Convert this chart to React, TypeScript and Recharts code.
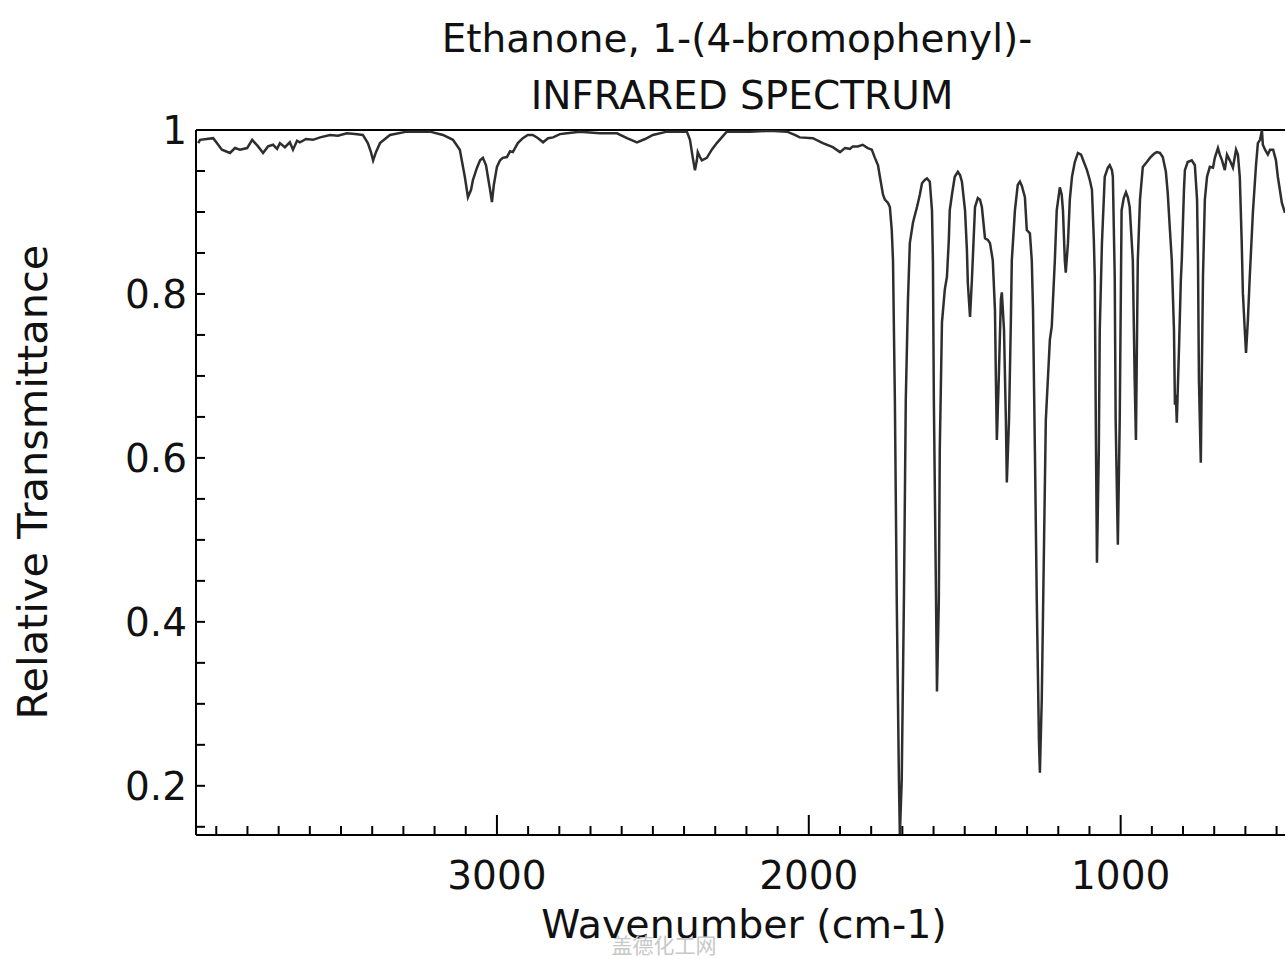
import React from 'react';
import { LineChart, Line, XAxis, YAxis, ReferenceLine } from 'recharts';

const wavenumbers = [
  3958, 3952, 3910, 3898, 3882, 3856, 3840, 3824, 3801, 3785,
  3766, 3750, 3734, 3718, 3705, 3696, 3680, 3664, 3654, 3641,
  3632, 3612, 3590, 3567, 3535, 3510, 3481, 3455, 3430, 3414,
  3404, 3397, 3388, 3375, 3343, 3289, 3215, 3173, 3141, 3119,
  3103, 3093, 3083, 3077, 3064, 3054, 3045, 3035, 3029, 3022,
  3016, 3010, 3000, 2990, 2981, 2968, 2958, 2949, 2933, 2917,
  2901, 2885, 2868, 2852, 2836, 2820, 2798, 2776, 2734, 2670,
  2615, 2583, 2551, 2525, 2500, 2455, 2391, 2381, 2372, 2365,
  2359, 2356, 2349, 2343, 2327, 2311, 2295, 2279, 2263, 2189,
  2125, 2070, 2045, 2029, 1987, 1955, 1923, 1900, 1884, 1868,
  1859, 1843, 1827, 1811, 1798, 1788, 1778, 1772, 1762, 1756,
  1746, 1740, 1734, 1730, 1724, 1718, 1711, 1708, 1702, 1695,
  1689, 1682, 1676, 1666, 1660, 1653, 1644, 1637, 1628, 1621,
  1612, 1605, 1602, 1599, 1592, 1589, 1583, 1580, 1573, 1564,
  1557, 1551, 1548, 1541, 1532, 1522, 1515, 1509, 1499, 1493,
  1490, 1483, 1477, 1467, 1458, 1451, 1445, 1435, 1426, 1419,
  1410, 1403, 1400, 1397, 1391, 1384, 1381, 1374, 1368, 1365,
  1358, 1352, 1349, 1339, 1330, 1323, 1317, 1307, 1301, 1291,
  1285, 1281, 1275, 1269, 1262, 1259, 1253, 1246, 1240, 1227,
  1221, 1211, 1205, 1195, 1189, 1185, 1179, 1176, 1169, 1163,
  1156, 1147, 1137, 1127, 1118, 1108, 1099, 1092, 1086, 1083,
  1079, 1076, 1070, 1067, 1060, 1051, 1041, 1035, 1028, 1025,
  1019, 1016, 1009, 1003, 997, 990, 983, 977, 971, 961,
  955, 951, 945, 938, 929, 916, 906, 893, 884, 874,
  865, 855, 849, 842, 836, 829, 826, 823, 820, 813,
  807, 804, 797, 794, 785, 772, 762, 755, 752, 749,
  743, 740, 736, 730, 723, 714, 704, 698, 688, 682,
  675, 666, 659, 650, 640, 630, 624, 618, 612, 608,
  602, 598, 592, 586, 576, 566, 560, 553, 547, 544,
  537, 528, 521, 511, 502, 496, 483, 473,
];

const transmittance = [
  0.984, 0.988, 0.990, 0.984, 0.976, 0.972, 0.978, 0.976, 0.978, 0.988,
  0.980, 0.972, 0.980, 0.982, 0.977, 0.984, 0.979, 0.985, 0.976, 0.987,
  0.985, 0.989, 0.988, 0.991, 0.994, 0.993, 0.996, 0.995, 0.994, 0.984,
  0.973, 0.963, 0.973, 0.984, 0.994, 0.998, 0.998, 0.994, 0.988, 0.976,
  0.943, 0.918, 0.927, 0.939, 0.954, 0.963, 0.966, 0.957, 0.943, 0.927,
  0.912, 0.933, 0.955, 0.963, 0.966, 0.967, 0.974, 0.973, 0.984, 0.990,
  0.994, 0.994, 0.990, 0.985, 0.990, 0.991, 0.995, 0.996, 0.998, 0.996,
  0.996, 0.990, 0.985, 0.989, 0.994, 0.998, 0.998, 0.988, 0.966, 0.951,
  0.963, 0.973, 0.967, 0.963, 0.966, 0.976, 0.984, 0.991, 0.998, 0.998,
  0.999, 0.998, 0.994, 0.991, 0.990, 0.984, 0.979, 0.973, 0.978, 0.977,
  0.980, 0.980, 0.982, 0.978, 0.976, 0.966, 0.957, 0.943, 0.921, 0.915,
  0.911, 0.906, 0.878, 0.841, 0.671, 0.427, 0.207, 0.140, 0.207, 0.427,
  0.671, 0.793, 0.862, 0.887, 0.896, 0.906, 0.921, 0.935, 0.939, 0.941,
  0.937, 0.902, 0.841, 0.671, 0.427, 0.315, 0.427, 0.610, 0.765, 0.805,
  0.821, 0.866, 0.902, 0.921, 0.943, 0.949, 0.945, 0.937, 0.902, 0.854,
  0.813, 0.772, 0.817, 0.906, 0.917, 0.915, 0.906, 0.868, 0.866, 0.862,
  0.841, 0.780, 0.695, 0.622, 0.695, 0.793, 0.802, 0.756, 0.646, 0.570,
  0.646, 0.768, 0.841, 0.902, 0.933, 0.937, 0.932, 0.918, 0.878, 0.874,
  0.841, 0.780, 0.610, 0.427, 0.256, 0.216, 0.305, 0.488, 0.646, 0.744,
  0.760, 0.841, 0.902, 0.930, 0.921, 0.902, 0.841, 0.826, 0.862, 0.915,
  0.943, 0.961, 0.972, 0.970, 0.961, 0.951, 0.939, 0.927, 0.866, 0.821,
  0.610, 0.472, 0.610, 0.756, 0.862, 0.943, 0.954, 0.957, 0.951, 0.943,
  0.821, 0.646, 0.494, 0.646, 0.902, 0.917, 0.924, 0.918, 0.906, 0.841,
  0.695, 0.622, 0.841, 0.915, 0.955, 0.961, 0.966, 0.971, 0.973, 0.972,
  0.967, 0.949, 0.923, 0.878, 0.841, 0.756, 0.665, 0.677, 0.643, 0.732,
  0.817, 0.841, 0.927, 0.951, 0.961, 0.963, 0.957, 0.915, 0.841, 0.695,
  0.594, 0.695, 0.821, 0.915, 0.943, 0.955, 0.954, 0.966, 0.978, 0.970,
  0.963, 0.951, 0.970, 0.963, 0.954, 0.976, 0.970, 0.943, 0.866, 0.801,
  0.756, 0.728, 0.768, 0.821, 0.899, 0.957, 0.984, 0.988, 1.000, 0.982,
  0.976, 0.970, 0.976, 0.976, 0.963, 0.943, 0.911, 0.899,
];

const xTicks = [500, 600, 700, 800, 900, 1000, 1100, 1200, 1300, 1400, 1500, 1600, 1700, 1800, 1900, 2000, 2100, 2200, 2300, 2400, 2500, 2600, 2700, 2800, 2900, 3000, 3100, 3200, 3300, 3400, 3500, 3600, 3700, 3800, 3900];
const yTicks = [0.15, 0.2, 0.25, 0.3, 0.35, 0.4, 0.45, 0.5, 0.55, 0.6, 0.65, 0.7, 0.75, 0.8, 0.85, 0.9, 0.95, 1.0];

const titleLine1 = 'Ethanone, 1-(4-bromophenyl)-';
const titleLine2 = 'INFRARED SPECTRUM';
const xLabel = 'Wavenumber (cm-1)';
const yLabel = 'Relative Transmittance';
const watermark = '盖德化工网';

const data = wavenumbers.map((w, i) => ({ w, t: transmittance[i] }));

const FONT = '"DejaVu Sans", Verdana, sans-serif';

const XTick = (props: any) => {
  const { x, y, payload } = props;
  const v = payload.value as number;
  const major = v % 1000 === 0;
  return (
    <g>
      <line x1={x} x2={x} y1={y} y2={y - (major ? 20 : 9)} stroke="#000" strokeWidth={2} />
      {major && (
        <text x={x} y={y + 54} textAnchor="middle" fontSize={39} fontFamily={FONT} fill="#111">
          {v}
        </text>
      )}
    </g>
  );
};

const YTick = (props: any) => {
  const { x, y, payload } = props;
  const v = payload.value as number;
  const labeled = Math.abs(v * 5 - Math.round(v * 5)) < 1e-6;
  const label = Math.abs(v - 1) < 1e-6 ? '1' : v.toFixed(1);
  return (
    <g>
      <line x1={x} x2={x + 9} y1={y} y2={y} stroke="#000" strokeWidth={2} />
      {labeled && (
        <text x={x - 9} y={y + 14} textAnchor="end" fontSize={39} fontFamily={FONT} fill="#111">
          {label}
        </text>
      )}
    </g>
  );
};

export default function App() {
  return (
    <div style={{ position: 'absolute', left: 0, top: 0, width: 1286, height: 959, background: '#fff' }}>
      <LineChart
        width={1286}
        height={959}
        data={data}
        margin={{ top: 130, right: 1, bottom: 0, left: 0 }}
      >
        <XAxis
          dataKey="w"
          type="number"
          domain={[473, 3965]}
          reversed
          allowDataOverflow
          ticks={xTicks}
          interval={0}
          height={124}
          tickSize={0}
          tickMargin={0}
          tickLine={false}
          axisLine={{ stroke: '#000', strokeWidth: 2 }}
          tick={<XTick />}
        />
        <YAxis
          type="number"
          domain={[0.14, 1]}
          allowDataOverflow
          ticks={yTicks}
          interval={0}
          width={196}
          tickSize={0}
          tickMargin={0}
          tickLine={false}
          axisLine={{ stroke: '#000', strokeWidth: 2 }}
          tick={<YTick />}
        />
        <ReferenceLine y={1} stroke="#000" strokeWidth={2} ifOverflow="extendDomain" />
        <Line
          type="linear"
          dataKey="t"
          stroke="#2e2e2e"
          strokeWidth={2.5}
          dot={false}
          isAnimationActive={false}
        />
      </LineChart>
      <svg
        width={1286}
        height={959}
        style={{ position: 'absolute', left: 0, top: 0, pointerEvents: 'none' }}
      >
        <text x={737} y={52} textAnchor="middle" fontSize={39} fontFamily={FONT} fill="#111">
          {titleLine1}
        </text>
        <text x={742} y={109} textAnchor="middle" fontSize={39} fontFamily={FONT} fill="#111">
          {titleLine2}
        </text>
        <text x={744} y={938} textAnchor="middle" fontSize={39.5} fontFamily={FONT} fill="#111">
          {xLabel}
        </text>
        <text
          transform="translate(47,482) rotate(-90)"
          textAnchor="middle"
          fontSize={41.5}
          fontFamily={FONT}
          fill="#111"
        >
          {yLabel}
        </text>
        <text x={664} y={953} textAnchor="middle" fontSize={21} fontFamily='"Noto Sans CJK SC", sans-serif' fill="#c8c8c8">
          {watermark}
        </text>
      </svg>
    </div>
  );
}
